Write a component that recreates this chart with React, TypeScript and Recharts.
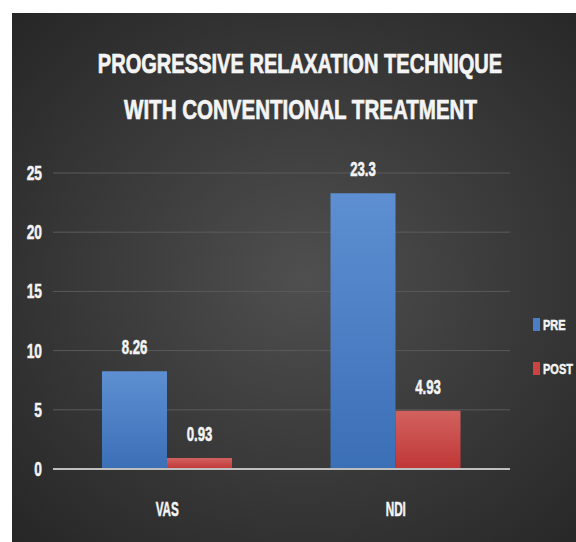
import React from 'react';
import { Bar, BarChart, CartesianGrid, LabelList, XAxis, YAxis } from 'recharts';

const categories = ['VAS', 'NDI'];
const preValues = [8.26, 23.3];
const postValues = [0.93, 4.93];
const yTicks = [0, 5, 10, 15, 20, 25];
const titleLines = ['PROGRESSIVE RELAXATION TECHNIQUE', 'WITH CONVENTIONAL TREATMENT'];
const seriesNames = ['PRE', 'POST'];

const data = categories.map((name, i) => ({ name, PRE: preValues[i], POST: postValues[i] }));

const FONT = "'Liberation Sans', Arial, sans-serif";
const TEXT = '#f4f4f4';

// squeezed bold text, the original uses a narrow font
const CondText = ({ x, y, anchor = 'middle', size, sx, sw = 0.5, children }: any) => (
  <text
    transform={`translate(${x},${y}) scale(${sx},1)`}
    textAnchor={anchor}
    fill={TEXT}
    stroke={TEXT}
    strokeWidth={sw}
    fontFamily={FONT}
    fontWeight={700}
    fontSize={size}
  >
    {children}
  </text>
);

const XTick = ({ x, y, payload }: any) => (
  <CondText x={x} y={y + 47} size={19.5} sx={0.6}>
    {payload.value}
  </CondText>
);

const YTick = ({ x, y, payload }: any) => (
  <CondText x={x} y={y + 7} anchor="end" size={20} sx={0.69}>
    {payload.value}
  </CondText>
);

const ValueLabel = ({ x, y, width, value }: any) => (
  <CondText x={x + width / 2} y={y - 17} size={20} sx={0.66}>
    {value}
  </CondText>
);

const legendColors = ['#4a7fc8', '#cc4442'];

export default function App() {
  return (
    <div style={{ position: 'absolute', left: 0, top: 0, width: 576, height: 542, background: '#fff', overflow: 'hidden' }}>
      <div
        style={{
          position: 'absolute',
          left: 12,
          top: 13,
          width: 564,
          height: 529,
          background: 'radial-gradient(ellipse at 52% 50%, #4f4f4f 0%, #3c3c3c 45%, #262626 100%)',
        }}
      >
        <svg width={564} height={140} style={{ position: 'absolute', left: 0, top: 0 }}>
          <CondText x={288} y={60} size={28} sx={0.717} sw={0.7}>
            {titleLines[0]}
          </CondText>
          <CondText x={288.5} y={106} size={28} sx={0.734} sw={0.7}>
            {titleLines[1]}
          </CondText>
        </svg>
        <BarChart
          width={564}
          height={529}
          data={data}
          margin={{ top: 160, right: 66, bottom: 0, left: 0 }}
          barGap={0}
          barSize={65}
          style={{ position: 'absolute', left: 0, top: 0 }}
        >
          <defs>
            <linearGradient id="preGrad" x1="0" y1="0" x2="0" y2="1">
              <stop offset="0%" stopColor="#5d8fd2" />
              <stop offset="100%" stopColor="#3b6fb6" />
            </linearGradient>
            <linearGradient id="postGrad" x1="0" y1="0" x2="0" y2="1">
              <stop offset="0%" stopColor="#d2625f" />
              <stop offset="100%" stopColor="#bf3737" />
            </linearGradient>
          </defs>
          <CartesianGrid vertical={false} stroke="#5a5a5a" strokeWidth={1} />
          <XAxis
            dataKey="name"
            height={73}
            axisLine={{ stroke: '#bfbfbf', strokeWidth: 2 }}
            tickLine={false}
            tickSize={0}
            tickMargin={0}
            tick={<XTick />}
          />
          <YAxis
            width={41}
            domain={[0, 25]}
            ticks={yTicks}
            axisLine={false}
            tickLine={false}
            tickSize={0}
            tickMargin={11}
            tick={<YTick />}
          />
          <Bar dataKey="PRE" fill="url(#preGrad)" isAnimationActive={false}>
            <LabelList dataKey="PRE" content={<ValueLabel />} />
          </Bar>
          <Bar dataKey="POST" fill="url(#postGrad)" isAnimationActive={false}>
            <LabelList dataKey="POST" content={<ValueLabel />} />
          </Bar>
        </BarChart>
        <svg width={50} height={80} style={{ position: 'absolute', left: 518, top: 295 }}>
          {seriesNames.map((name, i) => (
            <g key={name}>
              <rect x={3} y={10 + i * 44} width={7} height={13} fill={legendColors[i]} />
              <CondText x={13} y={22 + i * 44} anchor="start" size={14.5} sx={0.76}>
                {name}
              </CondText>
            </g>
          ))}
        </svg>
      </div>
    </div>
  );
}
